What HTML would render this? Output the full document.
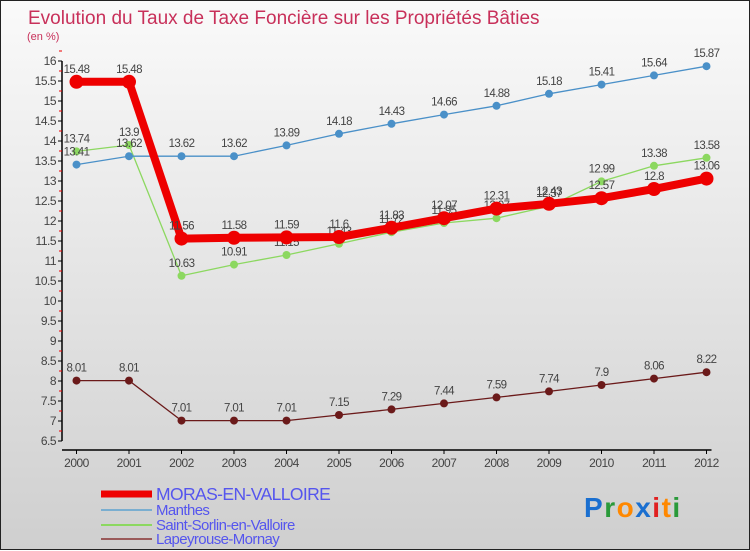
<!DOCTYPE html>
<html><head><meta charset="utf-8">
<style>
html,body{margin:0;padding:0;}
body{width:750px;height:550px;overflow:hidden;}
#wrap{position:relative;width:748px;height:548px;border:1px solid #222;background:linear-gradient(#fafafa,#cfcfcf);}
svg{position:absolute;left:0;top:0;font-family:"Liberation Sans",sans-serif;}
</style></head><body>
<div id="wrap">
<svg id="chart" width="750" height="550"></svg>
</div>
<script>
const years=["2000","2001","2002","2003","2004","2005","2006","2007","2008","2009","2010","2011","2012"];
const moras=[15.48,15.48,11.56,11.58,11.59,11.6,11.83,12.07,12.31,12.43,12.57,12.8,13.06];
const manthes=[13.41,13.62,13.62,13.62,13.89,14.18,14.43,14.66,14.88,15.18,15.41,15.64,15.87];
const sorlin=[13.74,13.9,10.63,10.91,11.15,11.43,11.72,11.95,12.07,12.37,12.99,13.38,13.58];
const lapey=[8.01,8.01,7.01,7.01,7.01,7.15,7.29,7.44,7.59,7.74,7.9,8.06,8.22];
const yTicks=[6.5,7,7.5,8,8.5,9,9.5,10,10.5,11,11.5,12,12.5,13,13.5,14,14.5,15,15.5,16];
const seriesNames=["MORAS-EN-VALLOIRE","Manthes","Saint-Sorlin-en-Valloire","Lapeyrouse-Mornay"];

const NS="http://www.w3.org/2000/svg";
const svg=document.getElementById('chart');
const x=i=>75.5+i*52.5;
const y=v=>440-(v-6.5)*40;
function mk(tag,attrs,parent){const e=document.createElementNS(NS,tag);for(const k in attrs)e.setAttribute(k,attrs[k]);(parent||svg).appendChild(e);return e;}

let t=mk('text',{x:27,y:23,'font-size':19,fill:'#c8305a'});t.textContent="Evolution du Taux de Taxe Foncière sur les Propriétés Bâties";


t=mk('text',{x:26,y:39,'font-size':11,fill:'#c8305a'});t.textContent="(en %)";



let ax=mk('line',{x1:61,y1:y(16),x2:61,y2:y(6.5),stroke:'#000','stroke-width':1.5});


yTicks.forEach(v=>{
  mk('line',{x1:57,y1:y(v),x2:61,y2:y(v),stroke:'#000'});
  mk('line',{x1:58,y1:y(v+0.25),x2:61,y2:y(v+0.25),stroke:'#e00'});
  const l=mk('text',{x:55,y:y(v)+4,'font-size':12,'text-anchor':'end',fill:'#444','letter-spacing':'-0.5'});
  l.textContent=String(v);
  
  
});
ax=mk('line',{x1:61,y1:449,x2:x(12)+5,y2:449,stroke:'#000','stroke-width':1.5});


years.forEach((yr,i)=>{
  mk('line',{x1:x(i),y1:449,x2:x(i),y2:453,stroke:'#000'});
  const l=mk('text',{x:x(i),y:466,'font-size':12,'text-anchor':'middle',fill:'#444','letter-spacing':'-0.5'});
  l.textContent=yr;
  
  
});

function series(data,color,w,r,name){
  const g=mk('g',{});
  
  
  mk('polyline',{points:data.map((v,i)=>x(i)+','+y(v)).join(' '),fill:'none',stroke:color,'stroke-width':w,'stroke-linejoin':'round'},g);
  data.forEach((v,i)=>{
    const c=mk('circle',{cx:x(i),cy:y(v),r:r,fill:color},g);
    
    
    const l=mk('text',{x:x(i),y:y(v)-9,'font-size':11.5,'text-anchor':'middle',fill:'#444','letter-spacing':'-0.6'},g);
    l.textContent=String(v);
    
    
  });
}
series(lapey,'#6b1a1a',1.3,4,'lapeyrouse-series');
series(sorlin,'#8cd860',1.3,4,'saint-sorlin-series');
series(manthes,'#4a90c8',1.3,4,'manthes-series');
series(moras,'#ee0000',8,7,'moras-series');

const legColors=['#ee0000','#7aaed0','#8cd860','#9a5a5a'];
const legY=[493,509,524,538];
seriesNames.forEach((n,i)=>{
  const g=mk('g',{});
  
  
  mk('line',{x1:100,y1:legY[i],x2:151,y2:legY[i],stroke:legColors[i],'stroke-width':i==0?7:2},g);
  const l=mk('text',{x:155,y:legY[i]+(i==0?6:5),'font-size':i==0?17.5:15,fill:'#5555ee','letter-spacing':'-0.6'},g);
  l.textContent=n;
});

const logo=mk('text',{x:583,y:516,'font-size':28,'font-weight':'bold','letter-spacing':'1.5'});


[['P','#1a6fd0'],['r','#2a9a3a'],['o','#ff8800'],['x','#1a6fd0'],['i','#e02020'],['t','#ff8800'],['i','#2a9a3a']].forEach(([c,col])=>{
  const s=mk('tspan',{fill:col},logo);s.textContent=c;
});
</script>
</body></html>
